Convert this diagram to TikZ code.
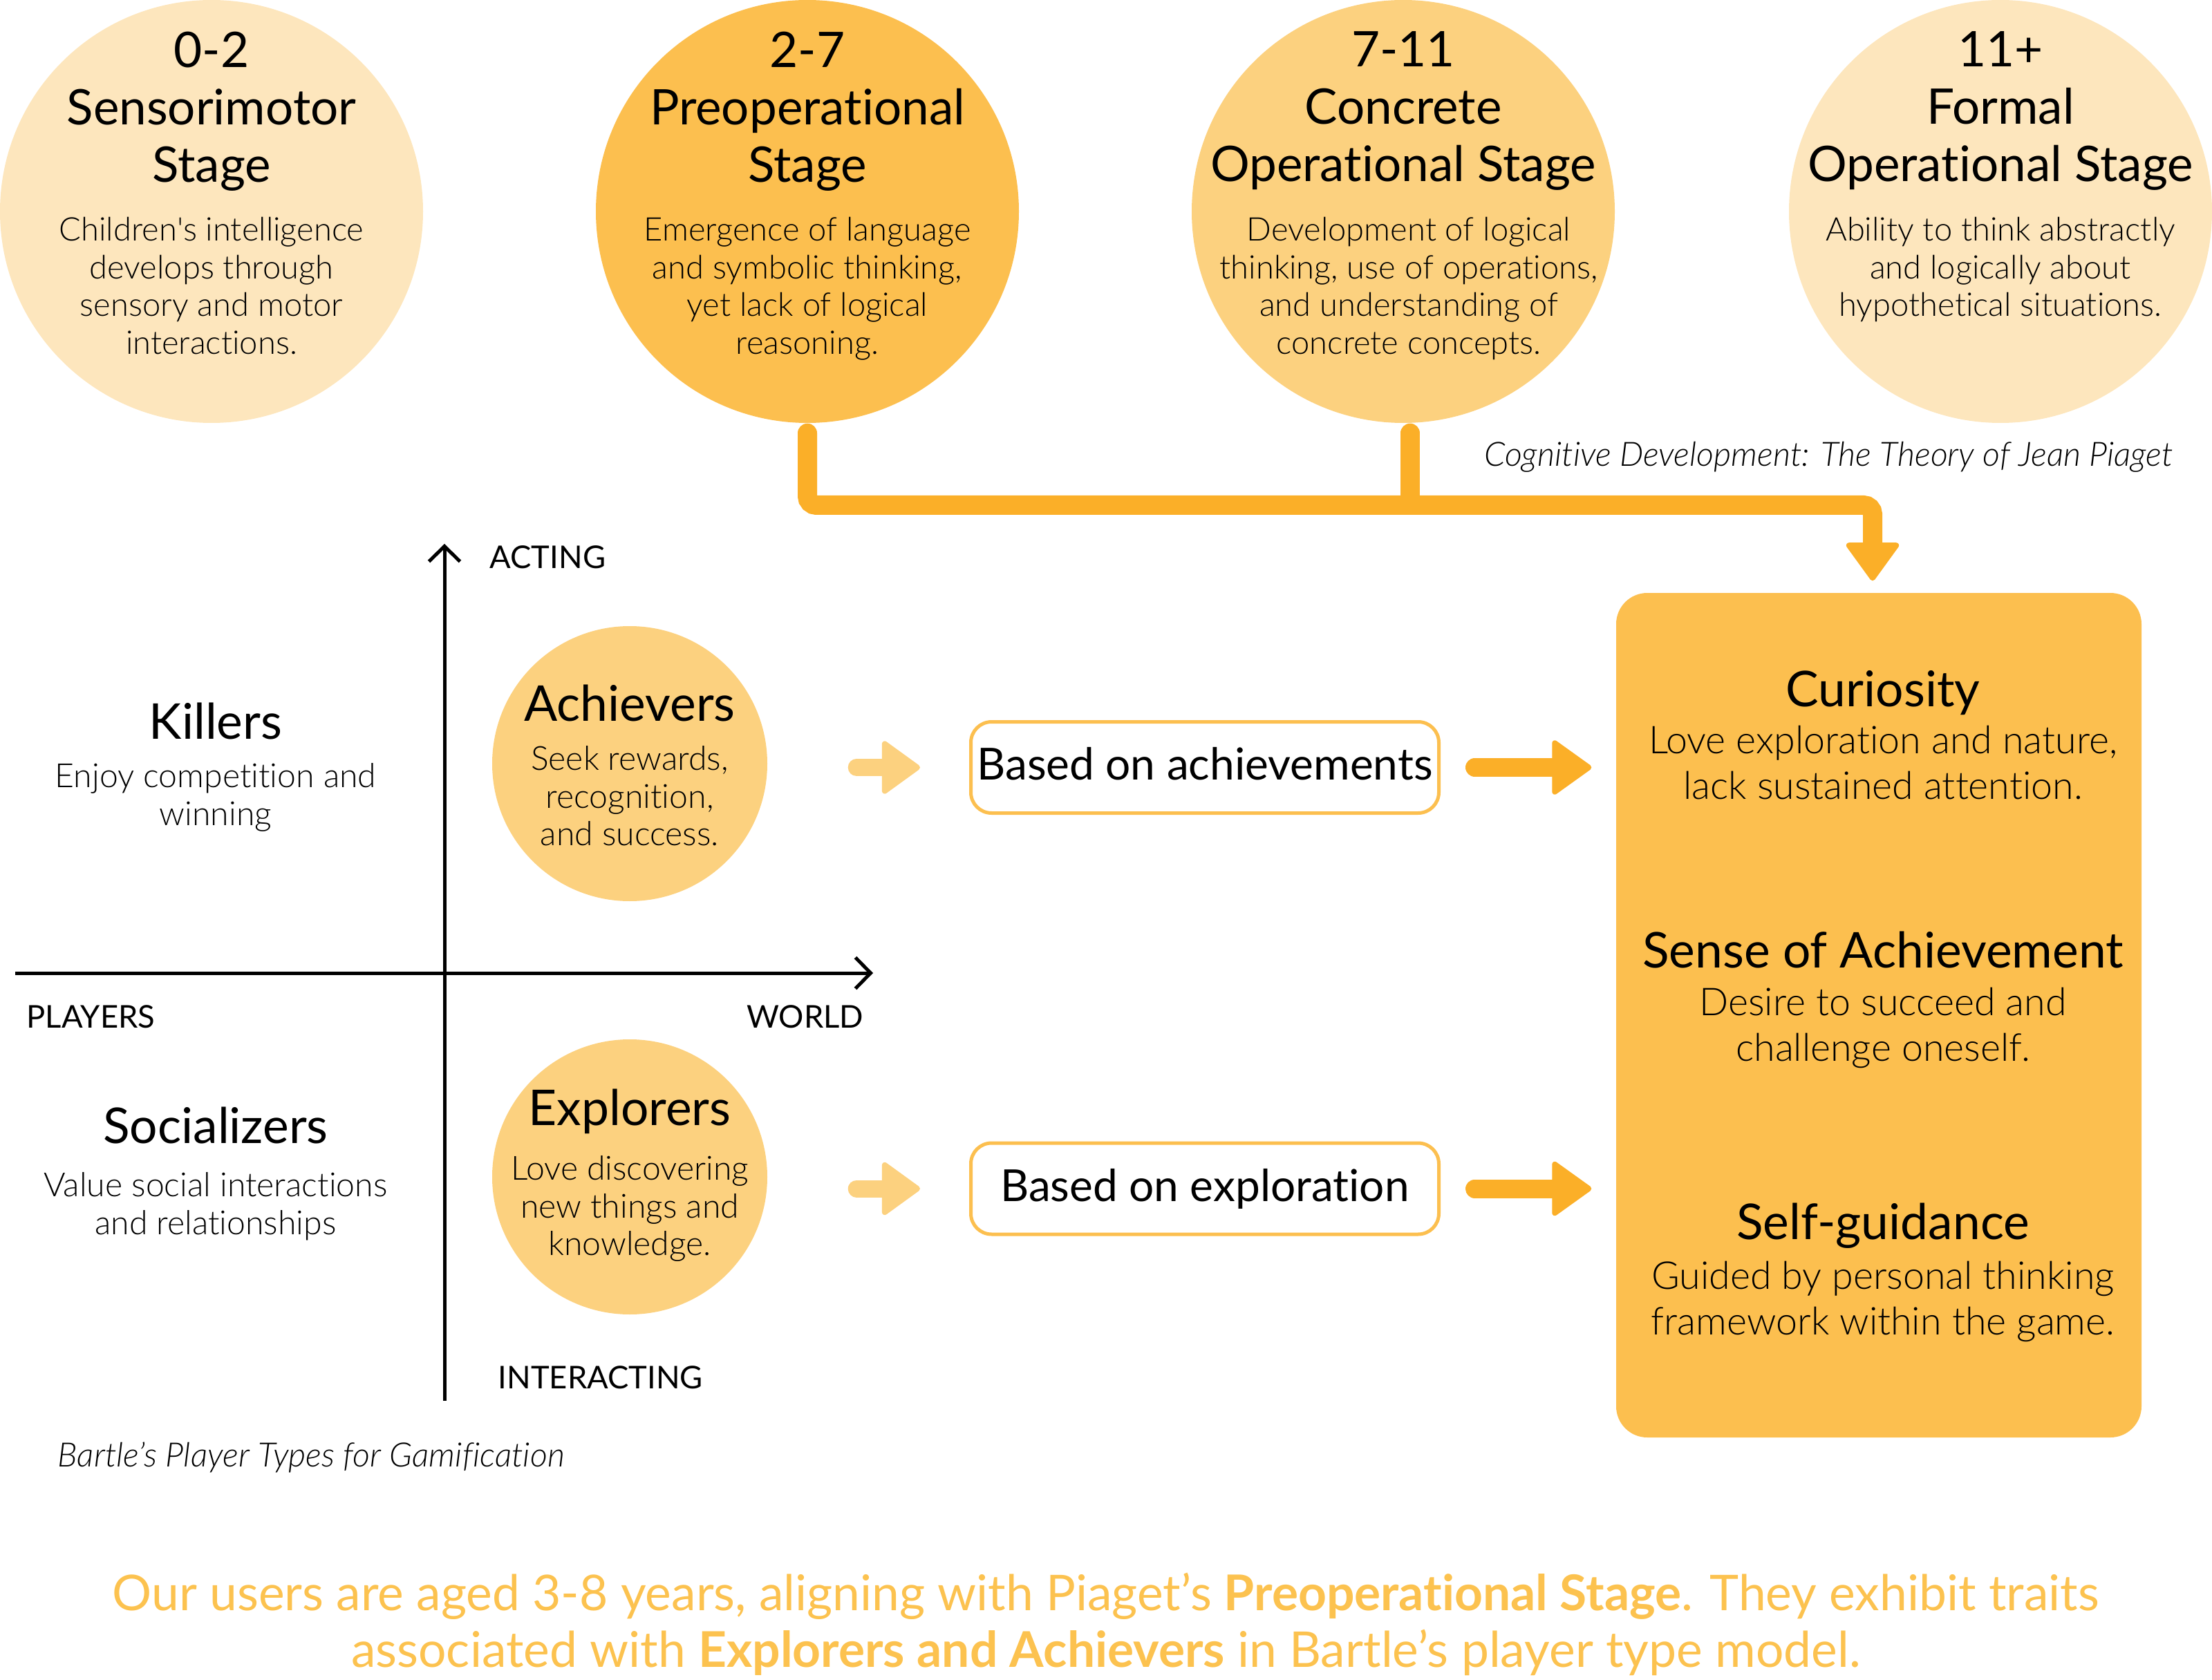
\documentclass[tikz,border=0pt]{standalone}
\usepackage{fontspec}
\setmainfont{Lato}[Ligatures={TeX,NoCommon}]
\newfontfamily\lightfont{Lato}[UprightFont={* Light},ItalicFont={* Light Italic},Ligatures=NoCommon]
\usetikzlibrary{arrows.meta}
\definecolor{cream}{HTML}{FDE6BD}
\definecolor{honey}{HTML}{FCD17F}
\definecolor{amber}{HTML}{FCBF4F}
\definecolor{deepamber}{HTML}{FBAF28}
\definecolor{notetext}{HTML}{FCC24F}
\begin{document}
\begin{tikzpicture}[x=1cm,y=1cm,
  stage/.style={circle,minimum size=6.12cm,inner sep=0pt},
  stagetitle/.style={anchor=north,align=center,inner sep=0pt,font={\fontsize{20.2}{23.6}\selectfont}},
  stagedesc/.style={anchor=north,align=center,inner sep=0pt,font={\lightfont\fontsize{13.4}{15.5}\selectfont}},
  player/.style={circle,minimum size=3.98cm,inner sep=0pt,fill=honey},
  ptitle/.style={anchor=base,inner sep=0pt,font={\fontsize{20.3}{24}\selectfont}},
  pdesc/.style={anchor=north,align=center,inner sep=0pt,font={\lightfont\fontsize{13.7}{15.5}\selectfont}},
  axislabel/.style={anchor=base west,inner sep=0pt,font={\fontsize{12.9}{15}\selectfont}},
  basedbox/.style={draw=amber,line width=0.05cm,rounded corners=0.3cm,fill=white,inner sep=0pt,minimum width=6.77cm,minimum height=1.32cm,text height=1.2em,text depth=0.15em,font={\fontsize{18.2}{22}\selectfont}},
  traitbox/.style={fill=amber,rounded corners=0.45cm,minimum width=7.6cm,minimum height=12.22cm,inner sep=0pt},
  ttitle/.style={anchor=base,inner sep=0pt,font={\fontsize{20.3}{24}\selectfont}},
  tdesc/.style={anchor=north,align=center,inner sep=0pt,font={\lightfont\fontsize{15.8}{19}\selectfont}},
  source/.style={inner sep=0pt,font={\lightfont\itshape\fontsize{13.8}{17}\selectfont}},
  feed/.style={draw=deepamber,line width=0.28cm,line cap=round,rounded corners=0.13cm},
  bigarrow/.style={draw=deepamber,line width=0.27cm,line cap=round,-{Triangle[length=0.6cm,width=0.84cm,round,line width=0.08cm]}},
  softarrow/.style={draw=honey,line width=0.25cm,line cap=round,-{Triangle[length=0.58cm,width=0.82cm,round,line width=0.08cm]}},
  axis/.style={line width=0.05cm,-{Straight Barb[length=0.22cm,width=0.45cm]}}]

\useasboundingbox (0,0) rectangle (32,-24.31);

\node[stage,fill=cream] (sens) at (3.06,-3.06) {};
\node[stage,fill=amber] (pre) at (11.68,-3.06) {};
\node[stage,fill=honey] (conc) at (20.30,-3.06) {};
\node[stage,fill=cream] (form) at (28.94,-3.06) {};

\node[stagetitle] (sensT) at (3.06,-0.45) {0-2\\Sensorimotor\\Stage};
\node[stagetitle] (preT) at (11.68,-0.45) {2-7\\Preoperational\\Stage};
\node[stagetitle] (concT) at (20.30,-0.45) {7-11\\Concrete\\Operational Stage};
\node[stagetitle] (formT) at (28.94,-0.45) {11+\\Formal\\Operational Stage};

\node[stagedesc] (sensD) at (3.06,-3.14) {Children's intelligence\\develops through\\sensory and motor\\interactions.};
\node[stagedesc] (preD) at (11.68,-3.14) {Emergence of language\\and symbolic thinking,\\yet lack of logical\\reasoning.};
\node[stagedesc] (concD) at (20.38,-3.14) {Development of logical\\thinking, use of operations,\\and understanding of\\concrete concepts.};
\node[stagedesc] (formD) at (28.94,-3.14) {Ability to think abstractly\\and logically about\\hypothetical situations.};

\node[source,anchor=base east] (piaget) at (31.44,-6.74) {Cognitive Development: The Theory of Jean Piaget};

\node[traitbox] (traits) at (27.18,-14.69) {};
\coordinate (hub) at (20.40,-7.31);
\draw[feed,-{Triangle[length=0.58cm,width=0.82cm,round,line width=0.08cm]},shorten >=0.17cm] ([yshift=-0.14cm]pre.south) |- ([xshift=-0.09cm]traits.north |- hub) -- ([xshift=-0.09cm]traits.north);
\draw[feed] ([xshift=0.1cm,yshift=-0.14cm]conc.south) -- ([xshift=0.1cm]conc.south |- hub);

\coordinate (west) at (0.22,-14.08);
\coordinate (east) at (12.63,-14.08);
\coordinate (north) at (6.43,-7.87);
\coordinate (south) at (6.43,-20.27);
\draw[axis] (west) -- (east);
\draw[axis] (south) -- (north);
\node[axislabel] (acting) at (7.08,-8.23) {ACTING};
\node[axislabel] (players) at (0.38,-14.87) {PLAYERS};
\node[axislabel,anchor=base east] (world) at (12.50,-14.87) {WORLD};
\node[axislabel] (interacting) at (7.20,-20.09) {INTERACTING};

\node[ptitle] (killT) at (3.12,-10.69) {Killers};
\node[pdesc] (killD) at (3.12,-11.04) {Enjoy competition and\\winning};
\node[ptitle] (socT) at (3.12,-16.54) {Socializers};
\node[pdesc] (socD) at (3.12,-16.96) {Value social interactions\\and relationships};

\node[player] (ach) at (9.11,-11.05) {};
\node[player] (exp) at (9.11,-17.03) {};
\node[ptitle] (achT) at (9.11,-10.43) {Achievers};
\node[pdesc] (achD) at (9.11,-10.79) {Seek rewards,\\recognition,\\and success.};
\node[ptitle] (expT) at (9.11,-16.28) {Explorers};
\node[pdesc] (expD) at (9.11,-16.72) {Love discovering\\new things and\\knowledge.};

\node[source,anchor=base west] (bartle) at (0.83,-21.22) {Bartle’s Player Types for Gamification};

\node[basedbox] (achbox) at (17.43,-11.105) {Based on achievements};
\node[basedbox] (expbox) at (17.43,-17.20) {Based on exploration};

\draw[softarrow,shorten <=1.285cm,shorten >=0.71cm] (ach.east |- achbox.west) -- (achbox.west);
\draw[softarrow,shorten <=1.285cm,shorten >=0.71cm] (exp.east |- expbox.west) -- (expbox.west);
\draw[bigarrow,shorten <=0.495cm,shorten >=0.35cm] (achbox.east) -- (achbox.east -| traits.west);
\draw[bigarrow,shorten <=0.495cm,shorten >=0.35cm] (expbox.east) -- (expbox.east -| traits.west);

\node[ttitle] (curT) at (27.24,-10.22) {Curiosity};
\node[tdesc] (curD) at (27.24,-10.49) {Love exploration and nature,\\lack sustained attention.};
\node[ttitle] (senT) at (27.24,-14.00) {Sense of Achievement};
\node[tdesc] (senD) at (27.24,-14.28) {Desire to succeed and\\challenge oneself.};
\node[ttitle] (selfT) at (27.24,-17.93) {Self-guidance};
\node[tdesc] (selfD) at (27.24,-18.24) {Guided by personal thinking\\framework within the game.};

\node[anchor=north,align=center,inner sep=0pt,text=notetext,font={\fontsize{20.3}{23.3}\selectfont}] (summary) at (16.0,-22.75) {Our users are aged 3-8 years, aligning with Piaget's \textbf{Preoperational Stage}. They exhibit traits\\associated with \textbf{Explorers and Achievers} in Bartle's player type model.};
\end{tikzpicture}
\end{document}
